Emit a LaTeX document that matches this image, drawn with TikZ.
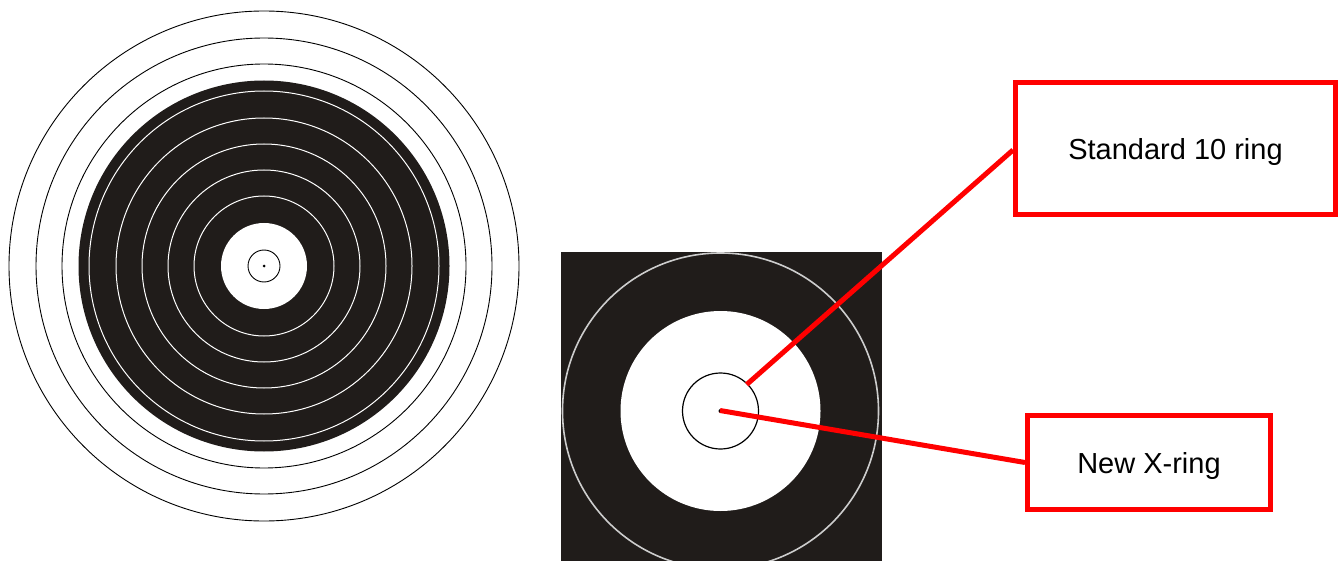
\documentclass[tikz,border=0pt]{standalone}
\usepackage{fontspec}
\setmainfont{Liberation Sans}
\definecolor{tblack}{RGB}{32,28,26}
\definecolor{tgray}{RGB}{205,205,205}
\definecolor{lred}{RGB}{255,0,0}
\tikzset{
  label box/.style={draw=lred, line width=5pt, fill=white, inner sep=0pt,
    text depth=0pt, font=\fontsize{29}{34}\selectfont, text=black},
  leader/.style={draw=lred, line width=5pt},
  thinblack/.style={draw=black, line width=0.9pt},
  thinwhite/.style={draw=white, line width=1pt},
}
\begin{document}
\begin{tikzpicture}[x=1pt,y=-1pt]
\useasboundingbox (0,0) rectangle (1340,561);
\fill[white] (0,0) rectangle (1340,561);
% ---- left target ----
\coordinate (L) at (264,266);
\foreach \r in {255,228,202} {\draw[thinblack] (L) circle (\r pt);}
\fill[tblack] (L) circle (185.5pt);
\foreach \r in {175,148,122,96,70} {\draw[thinwhite] (L) circle (\r pt);}
\fill[white] (L) circle (43pt);
\draw[thinblack] (L) circle (16pt);
\fill[black] (L) circle (1.5pt);
% ---- zoomed target ----
\begin{scope}
\clip (561,252) rectangle (882,561);
\fill[tblack] (561,252) rectangle (882,561);
\coordinate (M) at (720.5,411);
\draw[tgray, line width=1.6pt] (M) circle (158pt);
\fill[white] (M) circle (100pt);
\draw[black, line width=1.2pt] (M) circle (38pt);
\fill[black] (M) circle (2pt);
\end{scope}
% ---- label boxes ----
\node[label box, minimum width=320pt, minimum height=132pt] (ten) at (1175.5,148.5) {Standard 10 ring};
\node[label box, minimum width=243pt, minimum height=94pt] (xr) at (1149,462.5) {New X-ring};
\coordinate (tenpt) at (746.7,384.5);
\coordinate (xpt) at (720,410.5);
\draw[leader] (tenpt) -- (ten.west |- 0,150);
\draw[leader] (xpt) -- (xr.west);
\end{tikzpicture}
\end{document}
